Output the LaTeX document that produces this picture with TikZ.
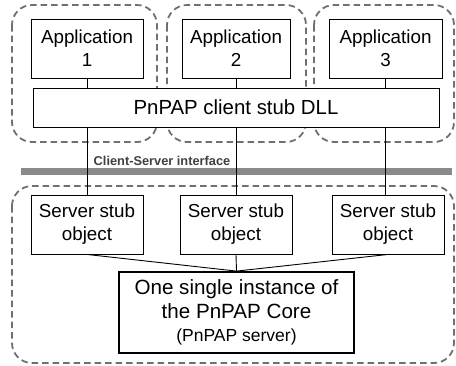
\documentclass[tikz,border=0pt]{standalone}
\usepackage{fontspec}
\setmainfont{Liberation Sans}
\definecolor{dashgray}{HTML}{707070}
\definecolor{bargray}{HTML}{8A8A8A}
\definecolor{labelgray}{HTML}{404040}
\begin{document}
\begin{tikzpicture}[x=1pt,y=-1pt,
  group/.style={draw=dashgray,line width=1.8pt,dash pattern=on 6.5pt off 4pt,rounded corners=20pt},
  box/.style={draw=black,line width=0.9pt,fill=white,align=center,inner sep=0pt},
  appbox/.style={box,minimum width=112pt,minimum height=59pt,font=\fontsize{18.8}{23}\selectfont},
  conn/.style={draw=black,line width=0.9pt}]
\useasboundingbox (0,0) rectangle (456,365);
% dashed groups
\draw[group] (12,5) rectangle (157,142);
\draw[group] (167,5) rectangle (306,142);
\draw[group] (314,5) rectangle (454,142);
\draw[group] (12,186) rectangle (454,363);
% interface bar
\draw[bargray,line width=7pt] (21,171) -- (452,171);
\node[font=\fontsize{12.8}{14}\selectfont\bfseries,text=labelgray] (iflabel) at (162,160.5) {Client-Server interface};
% nodes
\node[appbox] (app1) at (87,48.5) {Application\\1};
\node[appbox,minimum width=108pt] (app2) at (236,48.5) {Application\\2};
\node[appbox,minimum width=113pt] (app3) at (385.5,48.5) {Application\\3};
\node[box,minimum width=406pt,minimum height=39pt,font=\fontsize{20.4}{24}\selectfont] (dll) at (236,107.5) {PnPAP client stub DLL};
\node[appbox] (stub1) at (87,224.5) {Server stub\\object};
\node[appbox] (stub2) at (236,224.5) {Server stub\\object};
\node[appbox] (stub3) at (388,224.5) {Server stub\\object};
\node[box,line width=1.8pt,minimum width=235pt,minimum height=81pt,font=\fontsize{20.6}{23.5}\selectfont] (core) at (236.5,312.5) {One single instance of\\the PnPAP Core\\{\fontsize{17.5}{20}\selectfont (PnPAP server)}};
% connectors
\foreach \i in {1,2,3} {
  \draw[conn] (app\i.south) -- (app\i.south |- dll.north);
  \draw[conn] (app\i.south |- dll.south) -- (app\i.south |- stub\i.north);
}
\draw[conn] (stub1.south) -- (core.north);
\draw[conn] (stub2.south) -- (core.north);
\draw[conn] (stub3.south) -- (core.north);
\end{tikzpicture}
\end{document}
